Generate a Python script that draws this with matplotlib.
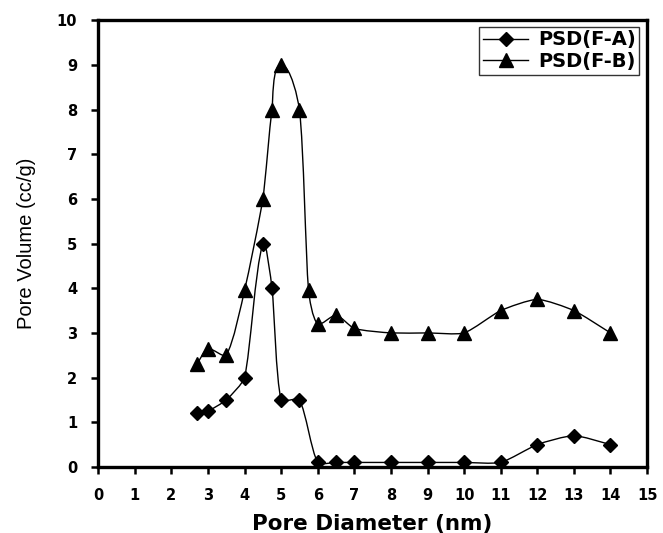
import numpy as np
import matplotlib
matplotlib.use('Agg')
import matplotlib.pyplot as plt
from matplotlib.path import Path
from matplotlib.patches import PathPatch
from matplotlib.lines import Line2D

# data
x_a = [2.7, 3.0, 3.5, 4.0, 4.5, 4.75, 5.0, 5.5, 6.0, 6.5, 7, 8, 9, 10, 11, 12, 13, 14]
y_a = [1.2, 1.25, 1.5, 2.0, 5.0, 4.0, 1.5, 1.5, 0.1, 0.1, 0.1, 0.1, 0.1, 0.1, 0.1, 0.5, 0.7, 0.5]
x_b = [2.7, 3.0, 3.5, 4.0, 4.5, 4.75, 5.0, 5.5, 5.75, 6.0, 6.5, 7, 8, 9, 10, 11, 12, 13, 14]
y_b = [2.3, 2.65, 2.5, 3.95, 6.0, 8.0, 9.0, 8.0, 3.95, 3.2, 3.4, 3.1, 3.0, 3.0, 3.0, 3.5, 3.75, 3.5, 3.0]
labels = ['PSD(F-A)', 'PSD(F-B)']

sx, sy = 36.6, 44.7  # rough px per unit, so the smoothing works in screen-like space


def smooth_path(xs, ys, k=0.2):
    # excel-like smoothed line: bezier segments through the points
    p = np.column_stack([np.array(xs) * sx, np.array(ys) * sy])
    n = len(p)
    tang = []
    for i in range(n):
        a = p[max(i - 1, 0)]
        b = p[min(i + 1, n - 1)]
        d = b - a
        tang.append(d / np.hypot(*d))
    verts = [p[0]]
    codes = [Path.MOVETO]
    for i in range(n - 1):
        L = np.hypot(*(p[i + 1] - p[i]))
        c1 = p[i] + tang[i] * L * k
        c2 = p[i + 1] - tang[i + 1] * L * k
        verts += [c1, c2, p[i + 1]]
        codes += [Path.CURVE4] * 3
    verts = np.array(verts) / [sx, sy]
    return Path(verts, codes)


fig = plt.figure(figsize=(6.63, 5.33), dpi=100)
ax = fig.add_axes([0.148, 0.124, 0.828, 0.838])

for xs, ys, m, ms in [(x_a, y_a, 'D', 7), (x_b, y_b, '^', 10)]:
    ax.add_patch(PathPatch(smooth_path(xs, ys), fill=False, edgecolor='black', lw=1.0))
    ax.plot(xs, ys, ls='none', marker=m, ms=ms, color='black')

handles = [Line2D([], [], color='black', lw=1, marker='D', ms=7),
           Line2D([], [], color='black', lw=1, marker='^', ms=10)]
leg = ax.legend(handles, labels, loc='upper right', bbox_to_anchor=(0.986, 0.986),
                frameon=True, fancybox=False, edgecolor='black', borderpad=0.2,
                handlelength=2.3, handletextpad=0.5, labelspacing=0.12, borderaxespad=0,
                prop={'family': 'DejaVu Sans', 'weight': 'bold', 'size': 14})
leg.get_frame().set_linewidth(1.0)

ax.set_xlim(0, 15)
ax.set_ylim(0, 10)
ax.set_xticks(range(0, 16))
ax.set_yticks(range(0, 11))
for s in ax.spines.values():
    s.set_linewidth(2.4)
ax.tick_params(direction='out', length=5, width=1.8, pad=10, labelsize=10.5)
for t in ax.get_xticklabels() + ax.get_yticklabels():
    t.set_fontweight('bold')
    t.set_family('DejaVu Sans')

ax.set_xlabel('Pore Diameter (nm)', fontsize=15.5, fontweight='bold', family='DejaVu Sans', labelpad=8)
ax.set_ylabel('Pore Volume (cc/g)', fontsize=14.5, family=['Liberation Sans Narrow', 'Liberation Sans'], labelpad=15)

plt.savefig('out.png', dpi=100)
